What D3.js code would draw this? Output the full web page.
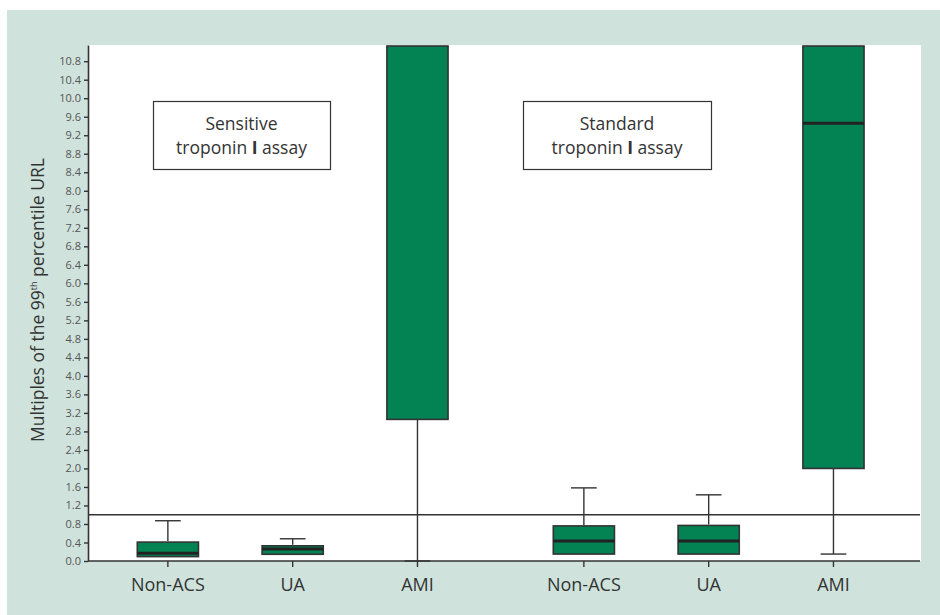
<!DOCTYPE html>
<html><head><meta charset="utf-8">
<script src="https://cdn.jsdelivr.net/npm/d3@7"></script>
<style>
body{margin:0;background:#fff;}
text{font-family:"Open Sans","Noto Sans",sans-serif;}
</style>
</head><body>
<svg id="chart" width="940" height="615"></svg>
<script>
// ---- data ----
const groups = ["Sensitive", "Standard"];
const groupTitles = [["Sensitive", "troponin I assay"], ["Standard", "troponin I assay"]];
const categories = ["Non-ACS", "UA", "AMI"];
// order: Sensitive Non-ACS, UA, AMI, Standard Non-ACS, UA, AMI
const whiskerLow  = [0.095, 0.145, 0.0,  0.15, 0.15, 0.15];
const q1          = [0.095, 0.145, 3.06, 0.15, 0.15, 2.0];
const median      = [0.17,  0.26,  13.5, 0.43, 0.43, 9.46];
const q3          = [0.43,  0.35,  20.0, 0.78, 0.79, 16.0];
const whiskerHigh = [0.87,  0.48,  30.0, 1.58, 1.43, 25.0];
const referenceValue = 1.0;
const yTicks = [0.0,0.4,0.8,1.2,1.6,2.0,2.4,2.8,3.2,3.6,4.0,4.4,4.8,5.2,5.6,6.0,6.4,6.8,7.2,7.6,8.0,8.4,8.8,9.2,9.6,10.0,10.4,10.8];
const yMax = 11.15;

const rows = [];
groups.forEach((g, gi) => categories.forEach((c, ci) => {
  const i = gi * categories.length + ci;
  rows.push({group: g, cat: c, lo: whiskerLow[i], q1: q1[i], med: median[i], q3: q3[i], hi: whiskerHigh[i]});
}));

// ---- layout ----
const svg = d3.select("#chart");
const L = 88, R = 920, T = 45, B = 561;
const ink = "#333", fill = "#038254";

svg.append("rect").attr("x", 7).attr("y", 10).attr("width", 933).attr("height", 605).attr("fill", "#cfe3dc");
svg.append("rect").attr("x", L).attr("y", T).attr("width", R - L + 1).attr("height", B - T).attr("fill", "#fff");

const y = d3.scaleLinear().domain([0, yMax]).range([B, T]).clamp(true);
const xg = d3.scaleBand().domain(groups).range([L, R]).paddingInner(0.1).paddingOuter(0.05).align(0.42);
const xc = d3.scaleBand().domain(categories).range([0, xg.bandwidth()]).paddingInner(0.51).paddingOuter(0.255);
const cx = d => xg(d.group) + xc(d.cat) + xc.bandwidth() / 2;
const bw = xc.bandwidth();
const capW = bw * 0.42;

// reference line
svg.append("line").attr("x1", L).attr("x2", R).attr("y1", y(referenceValue)).attr("y2", y(referenceValue))
  .attr("stroke", ink).attr("stroke-width", 1.4);

// legend boxes
const legendBoxes = [[153, 101, 177, 68], [523, 101, 188, 68]];
groupTitles.forEach((lines, i) => {
  const [bx, by, w, h] = legendBoxes[i];
  const g = svg.append("g");
  g.append("rect").attr("x", bx + 0.5).attr("y", by + 0.5).attr("width", w).attr("height", h)
    .attr("fill", "#fff").attr("stroke", ink).attr("stroke-width", 1.2);
  g.append("text").attr("x", bx + w / 2).attr("y", by + 29).attr("text-anchor", "middle")
    .attr("font-size", 17.5).attr("fill", "#333").text(lines[0]);
  const t2 = g.append("text").attr("x", bx + w / 2).attr("y", by + 53).attr("text-anchor", "middle")
    .attr("font-size", 17.5).attr("fill", "#333");
  const parts = lines[1].split(" I ");
  t2.append("tspan").text(parts[0] + " ");
  t2.append("tspan").attr("font-weight", "bold").text("I");
  t2.append("tspan").text(" " + parts[1]);
});

// boxes
const boxes = svg.append("g");
rows.forEach(d => {
  const x = cx(d);
  const g = boxes.append("g");
  if (d.lo < d.q1) {
    g.append("line").attr("x1", x).attr("x2", x).attr("y1", y(d.q1)).attr("y2", y(d.lo)).attr("stroke", ink).attr("stroke-width", 1.4);
    g.append("line").attr("x1", x - capW / 2).attr("x2", x + capW / 2).attr("y1", y(d.lo)).attr("y2", y(d.lo)).attr("stroke", ink).attr("stroke-width", 1.4);
  }
  if (d.hi > d.q3 && d.hi <= yMax) {
    g.append("line").attr("x1", x).attr("x2", x).attr("y1", y(d.q3)).attr("y2", y(d.hi)).attr("stroke", ink).attr("stroke-width", 1.4);
    g.append("line").attr("x1", x - capW / 2).attr("x2", x + capW / 2).attr("y1", y(d.hi)).attr("y2", y(d.hi)).attr("stroke", ink).attr("stroke-width", 1.4);
  }
  g.append("rect").attr("x", x - bw / 2).attr("y", y(d.q3) + 1).attr("width", bw).attr("height", y(d.q1) - y(d.q3) - 1)
    .attr("fill", fill).attr("stroke", ink).attr("stroke-width", 1.6);
  if (d.med <= yMax) {
    g.append("line").attr("x1", x - bw / 2).attr("x2", x + bw / 2).attr("y1", y(d.med)).attr("y2", y(d.med))
      .attr("stroke", "#222").attr("stroke-width", 3);
  }
});

// y axis
const yAxis = svg.append("g").attr("transform", `translate(${L},0)`)
  .call(d3.axisLeft(y).tickValues(yTicks).tickFormat(d3.format(".1f")).tickSize(4).tickSizeOuter(0).tickPadding(3));
yAxis.select(".domain").attr("stroke", ink).attr("stroke-width", 1.6);
yAxis.selectAll(".tick line").attr("stroke", ink).attr("stroke-width", 1.4);
yAxis.selectAll(".tick text").attr("font-family", "'Open Sans', sans-serif").attr("font-size", 11).attr("fill", "#555");

// x axis
svg.append("line").attr("x1", L).attr("x2", R).attr("y1", B).attr("y2", B).attr("stroke", ink).attr("stroke-width", 1.6);
rows.forEach(d => {
  const x = cx(d);
  svg.append("line").attr("x1", x).attr("x2", x).attr("y1", B).attr("y2", B + 6).attr("stroke", ink).attr("stroke-width", 1.4);
  svg.append("text").attr("x", x).attr("y", B + 30).attr("text-anchor", "middle").attr("font-size", 18).attr("fill", "#333").text(d.cat);
});

// y label
const yl = svg.append("text").attr("transform", "translate(44,300) rotate(-90)").attr("text-anchor", "middle")
  .attr("font-size", 17.5).attr("fill", "#333");
yl.append("tspan").text("Multiples of the 99");
yl.append("tspan").attr("font-size", 9).attr("dy", -7).text("th");
yl.append("tspan").attr("dy", 7).text(" percentile URL");
</script>
</body></html>
